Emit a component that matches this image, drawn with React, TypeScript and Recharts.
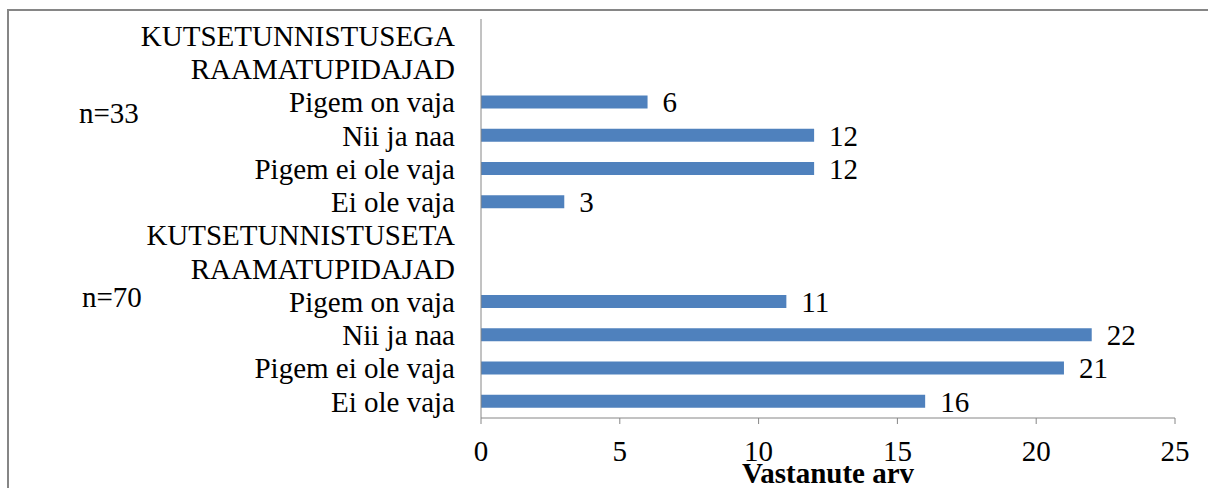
import { Bar, BarChart, LabelList, XAxis, YAxis, Label } from 'recharts';

// kategooriad ülevalt alla, iga rida on eraldi kategooria
const categories = [
  'KUTSETUNNISTUSEGA',
  'RAAMATUPIDAJAD',
  'Pigem on vaja',
  'Nii ja naa',
  'Pigem ei ole vaja',
  'Ei ole vaja',
  'KUTSETUNNISTUSETA',
  'RAAMATUPIDAJAD',
  'Pigem on vaja',
  'Nii ja naa',
  'Pigem ei ole vaja',
  'Ei ole vaja',
];
const values = [null, null, 6, 12, 12, 3, null, null, 11, 22, 21, 16];
const xTicks = [0, 5, 10, 15, 20, 25];
const notes = [
  { text: 'n=33', x: 79, y: 123 },
  { text: 'n=70', x: 82, y: 307 },
];

const data = categories.map((c, i) => ({ key: String(i), label: c, value: values[i] }));

const font = "'Times New Roman', 'Liberation Serif', serif";
const grey = '#868686';

const YTick = ({ x, y, payload }: any) => (
  <text x={x} y={y} dy="0.355em" textAnchor="end" fontSize={29} fontFamily={font} fill="#000">
    {categories[Number(payload.value)]}
  </text>
);

const XTick = ({ x, y, payload }: any) => (
  <text x={x} y={y} dy="0.71em" textAnchor="middle" fontSize={29} fontFamily={font} fill="#000">
    {payload.value}
  </text>
);

const ValueLabel = ({ x, y, width, height, value }: any) => {
  if (value == null) return null;
  return (
    <text
      x={Number(x) + Number(width) + 15}
      y={Number(y) + Number(height) / 2}
      dy="0.355em"
      fontSize={29}
      fontFamily={font}
      fill="#000"
    >
      {value}
    </text>
  );
};

export default function App() {
  return (
    <div style={{ position: 'fixed', left: 0, top: 0, width: 1208, height: 488, overflow: 'hidden', background: '#fff' }}>
      <div style={{ position: 'absolute', left: 7, top: 9, width: 1300, height: 600, border: `2px solid ${grey}` }} />
      <div style={{ position: 'absolute', left: 0, top: 0, fontFamily: font }}>
        <BarChart
          width={1208}
          height={488}
          data={data}
          layout="vertical"
          margin={{ top: 19, right: 33, bottom: 0, left: 0 }}
          barSize={13}
        >
          <XAxis
            type="number"
            domain={[0, 25]}
            ticks={xTicks}
            height={70}
            stroke={grey}
            tickSize={6}
            tickMargin={16}
            tick={XTick}
          >
            <Label
              value="Vastanute arv"
              position="insideBottom"
              offset={5}
              style={{ fontSize: 29, fontWeight: 'bold', fill: '#000', fontFamily: font }}
            />
          </XAxis>
          <YAxis
            type="category"
            dataKey="key"
            width={481}
            stroke={grey}
            tickLine={false}
            tickSize={0}
            tickMargin={26}
            tick={YTick}
            interval={0}
          />
          <Bar dataKey="value" fill="#4F81BD" isAnimationActive={false}>
            <LabelList dataKey="value" content={ValueLabel} />
          </Bar>
        </BarChart>
      </div>
      <svg width={1208} height={488} style={{ position: 'absolute', left: 0, top: 0, pointerEvents: 'none' }}>
        {notes.map((n) => (
          <text key={n.text} x={n.x} y={n.y} fontSize={29} fontFamily={font} fill="#000">
            {n.text}
          </text>
        ))}
      </svg>
    </div>
  );
}
